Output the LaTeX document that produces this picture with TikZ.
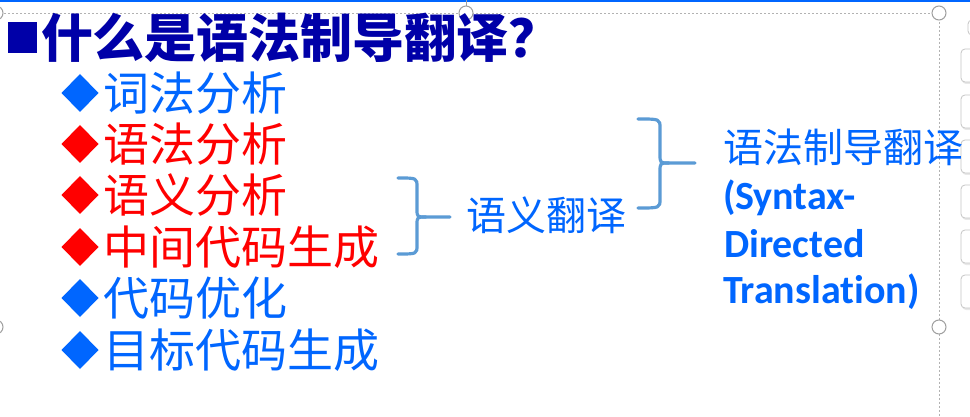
\documentclass[tikz,border=0pt]{standalone}
\usepackage{fontspec}
\newfontfamily\cjk{Noto Sans CJK SC}
\newfontfamily\latinb[Ligatures={NoCommon,NoRare,NoContextual}]{Carlito}
\definecolor{titleblue}{RGB}{0,0,168}
\definecolor{itemblue}{RGB}{0,102,255}
\definecolor{itemred}{RGB}{255,0,0}
\definecolor{bracecol}{RGB}{91,155,213}
\definecolor{uiblue}{RGB}{0,102,255}
\begin{document}
\begin{tikzpicture}[x=1pt,y=-1pt,
  txt/.style={anchor=base west, inner sep=0pt, outer sep=0pt},
  itemtxt/.style={txt, font=\cjk\fontsize{46}{54}\selectfont},
  bracepath/.style={draw=bracecol, line width=3.2pt, line cap=round, line join=round},
  handle/.style={circle, draw=gray!75, fill=white, line width=1pt, minimum size=14pt, inner sep=0pt},
  selbox/.style={draw=gray!60, line width=0.8pt, dash pattern=on 2pt off 2pt},
  uibtn/.style={draw=gray!45, fill=white, rounded corners=4pt, line width=0.8pt},
  uishadow/.style={fill=gray!18, rounded corners=4pt}
]
\useasboundingbox (0,0) rectangle (970,417);
\fill[white] (0,0) rectangle (970,417);

% UI: top blue line, selection box, toolbar buttons
\draw[uiblue, line width=2pt] (0,1) -- (970,1);
\draw[selbox] (-20,13) -- (939,13) -- (939,420);
\draw[gray!75, line width=1pt] (466,0) -- (466,6);
\foreach \yy in {49,95,140,185,230,275}{
  \fill[uishadow] (962,\yy+1.5) rectangle (992,\yy+35);
  \draw[uibtn] (961,\yy) rectangle (990,\yy+33);
}
\draw[uibtn] (968,20) rectangle (990,35);

\node[handle] (h1) at (466,13) {};
\node[handle] (h2) at (939,13) {};
\node[handle] (h3) at (939,327) {};
\node[handle] (h4) at (-4,13) {};
\node[handle] (h5) at (-4,327) {};

% Title
\fill[titleblue] (8,22) rectangle (37,53);
\node[txt, font=\cjk\bfseries\fontsize{52}{60}\selectfont, text=titleblue] (title) at (41,58) {什么是语法制导翻译？};

% List items
\foreach \yc/\col/\lab/\nm in {93/itemblue/词法分析/i1, 144/itemred/语法分析/i2, 195/itemred/语义分析/i3, 247/itemred/中间代码生成/i4, 298/itemblue/代码优化/i5, 350/itemblue/目标代码生成/i6}{
  \fill[\col] (80,\yc-19) -- (98.5,\yc) -- (80,\yc+19) -- (61.5,\yc) -- cycle;
  \node[itemtxt, text=\col] (\nm) at (103,\yc+17.5) {\lab};
}

% Brace 1
\coordinate (b1tip) at (450,217);
\draw[bracepath] (398,178) .. controls (417,178) .. (417,187) -- (417,209)
  .. controls (417,217) .. (426,217) -- (b1tip);
\draw[bracepath] (426,217) .. controls (417,217) .. (417,225) -- (417,245)
  .. controls (417,254) .. (398,254);
\node[txt, font=\cjk\fontsize{40}{48}\selectfont, text=itemblue] (sem) at (466,230) {语义翻译};

% Brace 2
\coordinate (b2tip) at (695,163);
\draw[bracepath] (638,119) .. controls (660,119) .. (660,128) -- (660,154)
  .. controls (660,163) .. (669,163) -- (b2tip);
\draw[bracepath] (669,163) .. controls (660,163) .. (660,172) -- (660,199)
  .. controls (660,208) .. (638,208);
\node[txt, font=\cjk\fontsize{40}{47}\selectfont, text=itemblue] (sdt) at (723,163) {语法制导翻译};
\node[txt, font=\latinb\bfseries\fontsize{40}{46.5}\selectfont, text=itemblue] (e1) at (723,210) {(Syntax-};
\node[txt, font=\latinb\bfseries\fontsize{40}{46.5}\selectfont, text=itemblue] (e2) at (724,257) {Directed};
\node[txt, font=\latinb\bfseries\fontsize{40}{46.5}\selectfont, text=itemblue] (e3) at (723,303) {Translation)};
\end{tikzpicture}
\end{document}
